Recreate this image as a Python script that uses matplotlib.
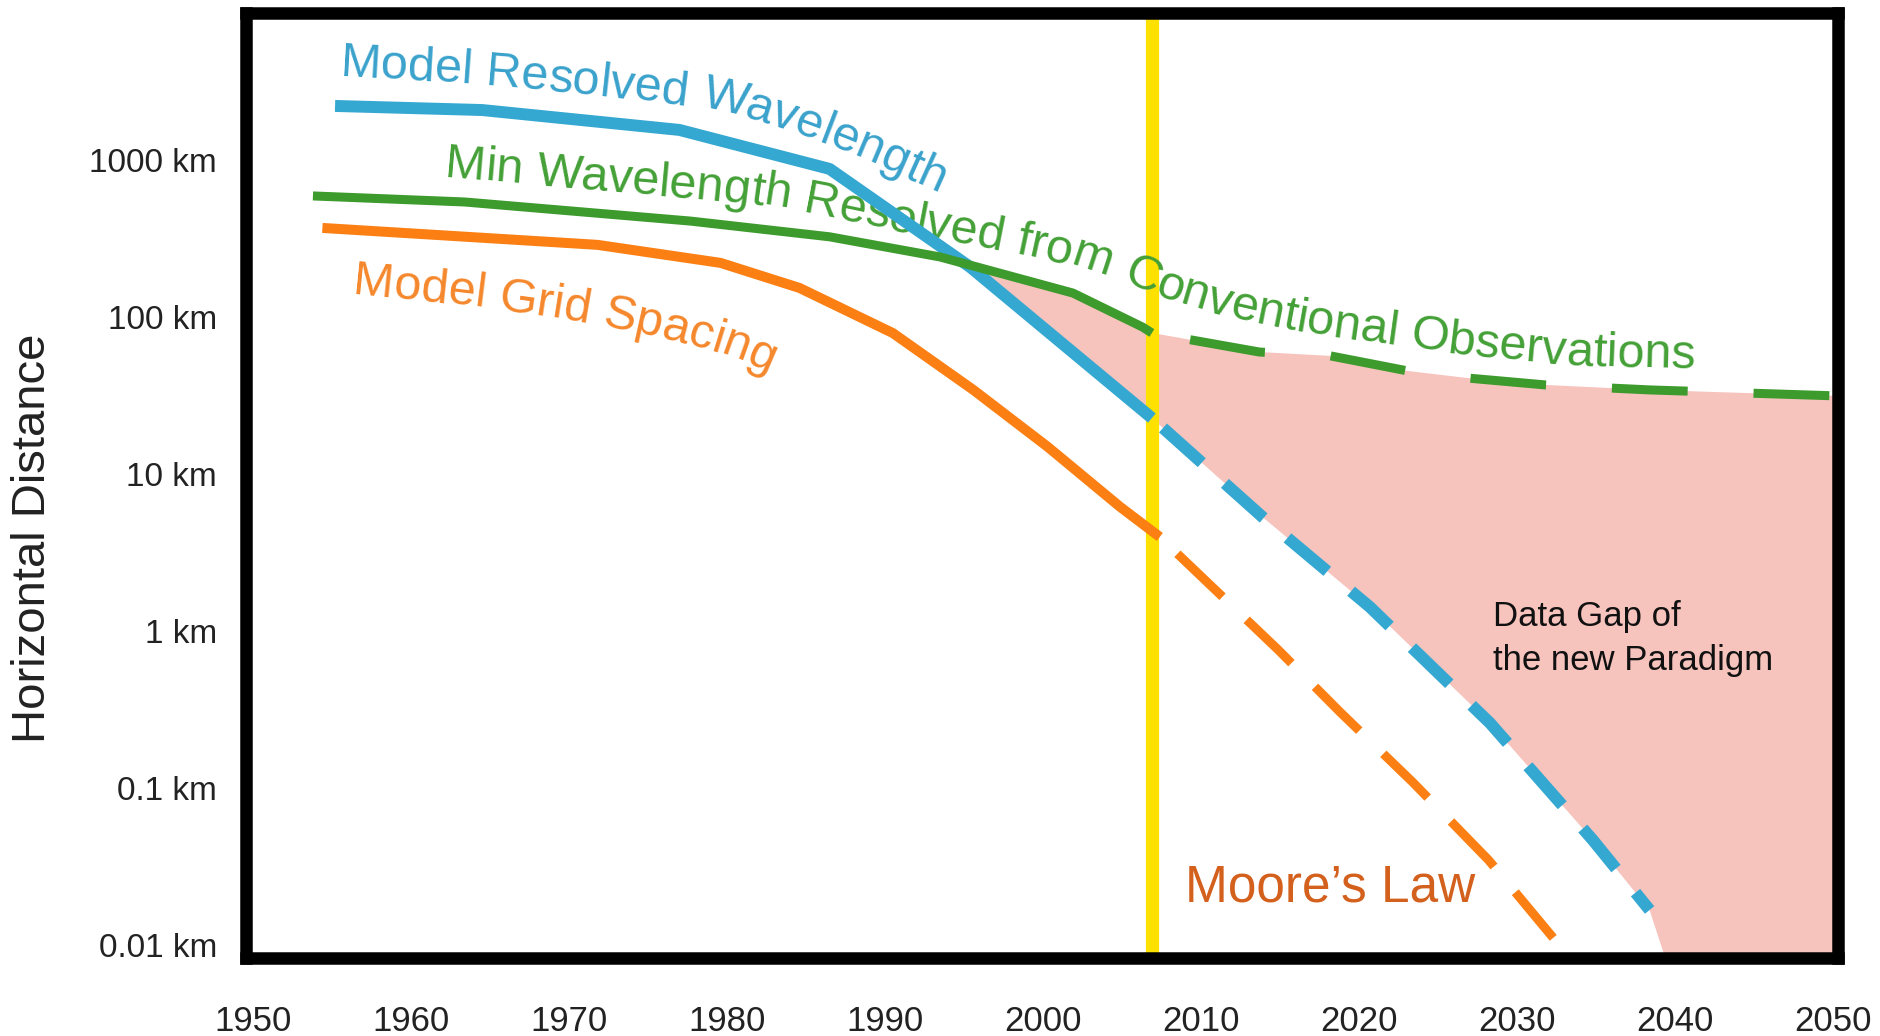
import numpy as np
import matplotlib
matplotlib.use('Agg')
import matplotlib.pyplot as plt
from matplotlib.font_manager import FontProperties
from matplotlib.textpath import TextToPath
from matplotlib.transforms import IdentityTransform

# model resolved wavelength (km): operational history, then projection
wave_years = [1955.2, 1964.5, 1977.0, 1986.5, 1995.4, 2006.9]
wave_km = [2208, 2080, 1553, 877, 208, 22.7]
wave_proj_years = [2006.9, 2013.9, 2020.7, 2028.3, 2034.8, 2038.4]
wave_proj_km = [22.7, 5.32, 1.42, 0.259, 0.0467, 0.0167]

# min wavelength resolved from conventional observations (km)
obs_years = [1953.8, 1963.4, 1977.7, 1986.5, 1993.5, 2001.9, 2006.3, 2006.9]
obs_km = [590, 540, 408, 324, 241, 142, 86.3, 79.1]
obs_proj_years = [2006.9, 2013.7, 2018.2, 2023.1, 2026.8, 2031.8, 2038.4, 2050.3]
obs_proj_km = [79.1, 59.8, 56.5, 45.3, 40.9, 36.9, 34.3, 31.4]

# model grid spacing (km) and the Moore's law extrapolation
grid_years = [1954.4, 1971.8, 1979.6, 1984.6, 1990.5, 1995.6, 2000.3, 2004.9, 2007.4]
grid_km = [369, 288, 221, 153, 79.0, 34.3, 14.9, 6.16, 3.97]
moore_years = [2007.4, 2014.9, 2018.8, 2023.4, 2028.2, 2032.3]
moore_km = [3.97, 0.757, 0.305, 0.109, 0.0348, 0.0111]

# floor of the data gap once the projection drops off the scale
gap_floor_years = [2039.3, 2050.3]
gap_floor_km = [0.0088, 0.0080]

now_year = 2006.9

year_ticks = list(range(1950, 2051, 10))
km_ticks = [0.01, 0.1, 1, 10, 100, 1000]
km_labels = ['0.01 km', '0.1 km', '1 km', '10 km', '100 km', '1000 km']

BLUE = '#35a8d2'
GREEN = '#3c9b2c'
ORANGE = '#fb7f12'
FONT = 'Liberation Sans'

plt.rcParams['font.family'] = FONT


def crossing(x1, y1, x2, y2):
    # first year where curve 1 drops below curve 2 (log space)
    xs = np.linspace(max(x1[0], x2[0]), min(x1[-1], x2[-1]), 2000)
    d = np.interp(xs, x1, np.log10(y1)) - np.interp(xs, x2, np.log10(y2))
    i = np.argmax(d < 0)
    return xs[i], 10 ** np.interp(xs[i], x2, np.log10(y2))


def label_along(ax, s, path_years, path_km, size, color):
    # lay the characters of s one by one along a curved baseline
    fig = ax.figure
    pts = ax.transData.transform(np.column_stack([path_years, path_km]))
    seg = np.diff(pts, axis=0)
    arc = np.concatenate([[0], np.cumsum(np.hypot(seg[:, 0], seg[:, 1]))])
    seg_mid = (arc[:-1] + arc[1:]) / 2
    seg_ang = np.degrees(np.arctan2(seg[:, 1], seg[:, 0]))
    prop = FontProperties(family=FONT, size=size)
    ttp = TextToPath()
    scale = fig.dpi / 72

    def width(t):
        return ttp.get_text_width_height_descent(t, prop, ismath=False)[0] * scale

    for i, ch in enumerate(s):
        if ch == ' ':
            continue
        pos = width(s[:i + 1]) - width(ch) / 2
        x = np.interp(pos, arc, pts[:, 0])
        y = np.interp(pos, arc, pts[:, 1])
        ang = np.interp(pos, seg_mid, seg_ang)
        ax.text(x, y, ch, transform=IdentityTransform(), rotation=ang,
                rotation_mode='anchor', ha='center', va='baseline',
                fontproperties=prop, color=color, zorder=2.5)


fig = plt.figure(figsize=(18.81, 10.36), dpi=100)
ax = fig.add_axes([0.1310, 0.0753, 0.8461, 0.9126])
ax.set_yscale('log')
ax.set_xlim(1949.59, 2050.32)
ax.set_ylim(0.00826, 8690)

# data gap between what the model resolves and what observations resolve
cx, cy = crossing(wave_years, wave_km, obs_years, obs_km)
up_x = [cx] + [x for x in obs_years if x > cx] + obs_proj_years[1:]
up_y = [cy] + [y for x, y in zip(obs_years, obs_km) if x > cx] + obs_proj_km[1:]
lo_x = [x for x in wave_years if x > cx] + wave_proj_years[1:] + gap_floor_years
lo_y = [y for x, y in zip(wave_years, wave_km) if x > cx] + wave_proj_km[1:] + gap_floor_km
ax.fill(up_x + lo_x[::-1], up_y + lo_y[::-1], color='#f6c3bd', lw=0, zorder=1)

ax.axvline(now_year, color='#ffe100', lw=9.5, zorder=2)

ax.plot(wave_years, wave_km, color=BLUE, lw=8.6, solid_capstyle='butt', zorder=3)
ax.plot(wave_proj_years, wave_proj_km, color=BLUE, lw=8.6,
        linestyle=(5.7, (4.35, 2.6)), dash_capstyle='butt', zorder=3)
ax.plot(obs_years, obs_km, color=GREEN, lw=6.5, solid_capstyle='butt', zorder=3)
ax.plot(obs_proj_years, obs_proj_km, color=GREEN, lw=6.5,
        linestyle=(11.4, (8.4, 7.3)), dash_capstyle='butt', zorder=3)
ax.plot(grid_years, grid_km, color=ORANGE, lw=7.2, solid_capstyle='butt', zorder=3)
ax.plot(moore_years, moore_km, color=ORANGE, lw=6.5,
        linestyle=(7.9, (6.9, 3.7)), dash_capstyle='butt', zorder=3)

label_along(ax, 'Model Resolved Wavelength',
            [1955.5, 1964.4, 1974.5, 1979.6, 1984.0, 1988.4, 1993.2],
            [3430, 3050, 2410, 2080, 1530, 1030, 625], 35, '#3aa2cc')
label_along(ax, 'Min Wavelength Resolved from Conventional Observations',
            [1962.1, 1973.2, 1983.4, 1990.9, 1998.1, 2004.2, 2006.6, 2010.6,
             2016.3, 2022.0, 2027.7, 2034.0, 2041.6],
            [780, 625, 502, 348, 256, 185, 142, 106, 80.2, 66.4, 55.6, 48.8, 46.7],
            35, '#43a036')
label_along(ax, 'Model Grid Spacing',
            [1956.3, 1964.4, 1972.0, 1977.7, 1980.8, 1983.4],
            [140, 116, 88.9, 66.4, 53.2, 40.8], 35, '#f5872c')

ax.text(2009.0, 0.0188, 'Moore\u2019s Law', ha='left', va='baseline',
        fontsize=37, color='#d3601d', zorder=4)
ax.text(2028.5, 1.08, 'Data Gap of', ha='left', va='baseline', fontsize=25,
        color='#111111', zorder=4)
ax.text(2028.5, 0.565, 'the new Paradigm', ha='left', va='baseline', fontsize=25,
        color='#111111', zorder=4)

ax.set_xticks(year_ticks)
ax.set_xticklabels([str(y) for y in year_ticks])
ax.set_yticks(km_ticks)
ax.set_yticklabels(km_labels)
ax.minorticks_off()
ax.tick_params(axis='x', length=0, pad=34, labelsize=25, labelcolor='#222222')
ax.tick_params(axis='y', length=0, pad=21, labelsize=24, labelcolor='#222222')
for sp in ax.spines.values():
    sp.set_linewidth(9)
    sp.set_color('black')

fig.text(33 / 1881, 1 - 538 / 1036, 'Horizontal Distance', rotation=90,
         ha='center', va='center', fontsize=34, color='#222222')

fig.savefig('out.png', dpi=100, facecolor='white')
